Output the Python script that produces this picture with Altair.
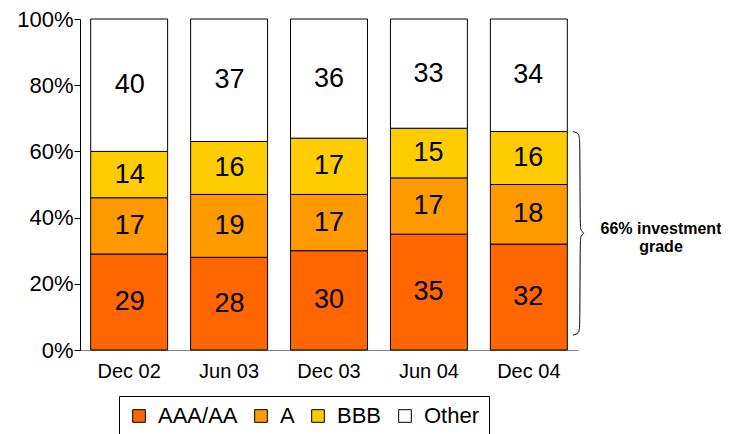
import altair as alt
import pandas as pd

periods = ["Dec 02", "Jun 03", "Dec 03", "Jun 04", "Dec 04"]
ratings = ["AAA/AA", "A", "BBB", "Other"]
aaa_aa = [29, 28, 30, 35, 32]
a_vals = [17, 19, 17, 17, 18]
bbb = [14, 16, 17, 15, 16]
other = [40, 37, 36, 33, 34]
colors = ["#FF6600", "#FF9900", "#FFCC00", "#FFFFFF"]
y_ticks = [0, 20, 40, 60, 80, 100]
note = ["66% investment", "grade"]
brace_top = 66
brace_bottom = 4.5

FONT = "Liberation Sans"

series = [aaa_aa, a_vals, bbb, other]
rows = []
for i, p in enumerate(periods):
    base = 0
    for k, r in enumerate(ratings):
        v = series[k][i]
        rows.append({"period": p, "rating": r, "order": k, "value": v,
                     "start": base, "end": base + v, "mid": base + v / 2})
        base += v
df = pd.DataFrame(rows)

yscale = alt.Scale(domain=[0, 100], nice=False)
xscale = alt.Scale(domain=periods, paddingInner=0.23, paddingOuter=0.107)

bars = alt.Chart(df).mark_bar(stroke="black", strokeWidth=1).encode(
    x=alt.X("period:N", scale=xscale, sort=periods, title=None,
            axis=alt.Axis(labelAngle=0, labelFontSize=20, labelFont=FONT, labelColor="black",
                          ticks=False, domainColor="#808080", labelPadding=11)),
    y=alt.Y("start:Q", scale=yscale, title=None,
            axis=alt.Axis(values=y_ticks, labelExpr="datum.value + '%'", labelFontSize=22,
                          labelFont=FONT, labelColor="black", tickSize=6, tickColor="black",
                          domainColor="black", labelPadding=1, grid=False)),
    y2="end:Q",
    color=alt.Color("rating:N", scale=alt.Scale(domain=ratings, range=colors),
                    legend=alt.Legend(title=None, orient="none", legendX=39, legendY=377,
                                      direction="horizontal", columns=4,
                                      strokeColor="black", padding=9,
                                      symbolType="square", symbolSize=160,
                                      symbolStrokeColor="black", symbolStrokeWidth=1,
                                      labelFontSize=22, labelFont=FONT, labelColor="black",
                                      columnPadding=12, labelOffset=8)),
    order=alt.Order("order:Q"),
)

labels = alt.Chart(df).mark_text(fontSize=27, font=FONT, color="black", baseline="middle").encode(
    x=alt.X("period:N", scale=xscale, sort=periods, axis=None),
    y=alt.Y("mid:Q", scale=yscale),
    text="value:Q",
)

mid = (brace_top + brace_bottom) / 2
brace_pts = [
    (493, brace_top), (499, brace_top - 0.5), (500, brace_top - 2.5),
    (500, mid + 2), (501, mid + 0.6), (505, mid), (501, mid - 0.6), (500, mid - 2),
    (500, brace_bottom + 2.5), (499, brace_bottom + 0.5), (493, brace_bottom),
]
brace_df = pd.DataFrame({"bx": [p[0] for p in brace_pts], "by": [p[1] for p in brace_pts],
                         "i": list(range(len(brace_pts)))})
brace = alt.Chart(brace_df).mark_line(color="black", strokeWidth=1, interpolate="basis").encode(
    x=alt.X("bx:Q", scale=None, axis=None),
    y=alt.Y("by:Q", scale=yscale),
    order="i:Q",
)

note_text = alt.Chart(pd.DataFrame({"t": [0]})).mark_text(
    text=note, fontSize=16, fontWeight="bold", font=FONT, color="black",
    align="center", baseline="alphabetic", lineHeight=18
).encode(x=alt.value(581), y=alt.value(215))

chart = alt.layer(bars, labels, brace, note_text).resolve_scale(x="independent").properties(
    width=498, height=331,
    autosize=alt.AutoSizeParams(type="none"),
    padding={"left": 72, "top": 11, "right": 143, "bottom": 90},
).configure_view(stroke=None)

chart.save("out.html", embed_options={"renderer": "svg", "actions": False})
